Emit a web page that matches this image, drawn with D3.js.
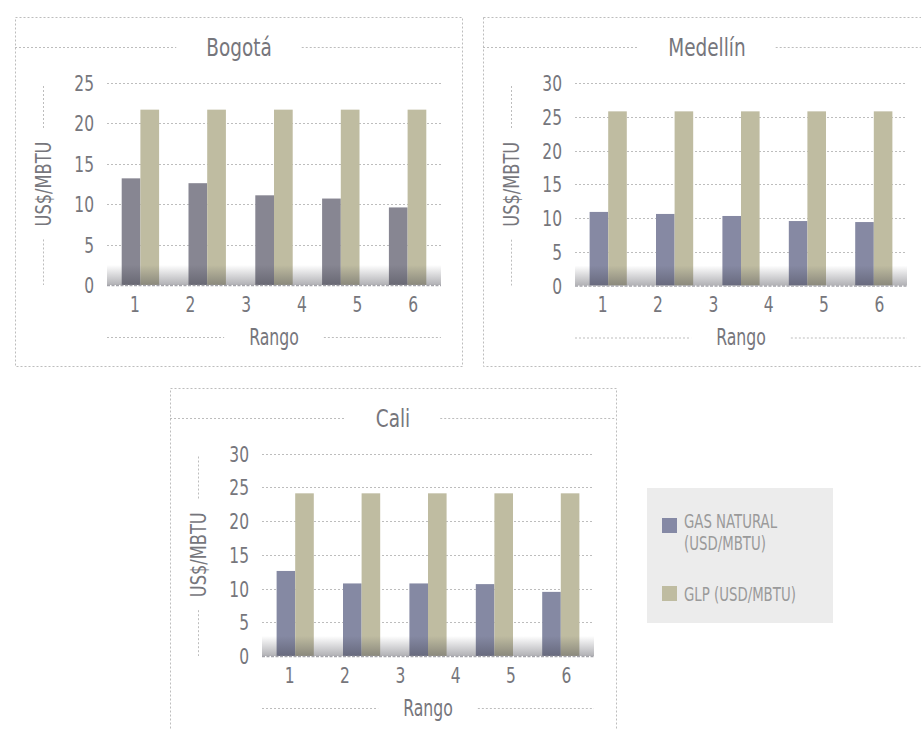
<!DOCTYPE html>
<html><head><meta charset="utf-8">
<script src="https://cdn.jsdelivr.net/npm/d3@7"></script>
<style>body{margin:0;background:#fff}svg{display:block}</style>
</head><body>
<script>
// ---- data ----
const tickLabels = ["1","2","3","4","5","6"];
const barGroups = ["g1","g2","g3","g4","g5"];
const bogotaGas = [13.2, 12.6, 11.1, 10.7, 9.6];
const bogotaGLP = [21.7, 21.7, 21.7, 21.7, 21.7];
const medellinGas = [10.9, 10.6, 10.3, 9.55, 9.4];
const medellinGLP = [25.8, 25.8, 25.8, 25.8, 25.8];
const caliGas = [12.6, 10.75, 10.75, 10.65, 9.5];
const caliGLP = [24.1, 24.1, 24.1, 24.1, 24.1];
const bogotaTicks = [0, 5, 10, 15, 20, 25];
const medellinTicks = [0, 5, 10, 15, 20, 25, 30];
const caliTicks = [0, 5, 10, 15, 20, 25, 30];
const seriesNames = ["GAS NATURAL (USD/MBTU)", "GLP (USD/MBTU)"];

const FONT = "'DejaVu Sans Condensed','DejaVu Sans',sans-serif";
const TXT = "#76767c";
const DOT = "#bdbdbd";
const GLP_COLOR = "#bfbca1";

const svg = d3.select("body").append("svg").attr("width", 921).attr("height", 730);
const defs = svg.append("defs");
const grad = defs.append("linearGradient").attr("id", "shade").attr("x1", 0).attr("x2", 0).attr("y1", 0).attr("y2", 1);
grad.append("stop").attr("offset", "0%").attr("stop-color", "#3c3c46").attr("stop-opacity", 0);
grad.append("stop").attr("offset", "100%").attr("stop-color", "#3c3c46").attr("stop-opacity", 0.4);

function condense(sel, sx) {
  sel.each(function () {
    const t = d3.select(this);
    const x = +t.attr("x") || 0, y = +t.attr("y") || 0;
    t.attr("transform", `translate(${x},${y}) scale(${sx},1) translate(${-x},${-y})`);
  });
}

function dotLine(g, x1, y1, x2, y2) {
  g.append("line").attr("x1", x1).attr("y1", y1).attr("x2", x2).attr("y2", y2)
    .attr("stroke", DOT).attr("stroke-width", 1).attr("stroke-dasharray", "2,2");
}

function panel(cfg) {
  const g = svg.append("g");
  const b = cfg.box;
  g.append("rect").attr("x", b.x + 0.5).attr("y", b.y + 0.5).attr("width", b.w).attr("height", b.h)
    .attr("fill", "none").attr("stroke", DOT).attr("stroke-dasharray", "2,2");
  const t = g.append("text").attr("x", cfg.titleX).attr("y", cfg.titleY + 9).attr("text-anchor", "middle")
    .attr("font-family", FONT).attr("font-size", 25).attr("fill", TXT).text(cfg.title);
  condense(t, 0.82);
  const tw = t.node().getComputedTextLength() * 0.82;
  dotLine(g, b.x, cfg.titleY + 0.5, cfg.titleX - tw / 2 - 30, cfg.titleY + 0.5);
  dotLine(g, cfg.titleX + tw / 2 + 30, cfg.titleY + 0.5, b.x + b.w, cfg.titleY + 0.5);

  const p = cfg.plot;
  const y = d3.scaleLinear().domain([0, d3.max(cfg.ticks)]).range([p.bottom, p.top]);
  const xLab = d3.scaleBand().domain(tickLabels).range([p.left, p.right]);
  const xBar = d3.scaleBand().domain(barGroups).range([p.left, p.right]);
  const bw = xBar.bandwidth() * 0.28;

  cfg.ticks.forEach(v => {
    if (v > 0) dotLine(g, p.left, Math.round(y(v)) + 0.5, p.right, Math.round(y(v)) + 0.5);
  });
  const yAxis = d3.axisLeft(y).tickValues(cfg.ticks).tickSize(0).tickPadding(13);
  const ya = g.append("g").attr("transform", `translate(${p.left},0)`).call(yAxis);
  ya.select(".domain").remove();
  ya.selectAll("text").attr("font-family", FONT).attr("font-size", 21).attr("fill", TXT).attr("dy", "0.36em");
  condense(ya.selectAll("text"), 0.82);

  g.append("g").selectAll("rect").data(cfg.gas).join("rect")
    .attr("x", (d, i) => xBar(barGroups[i]) + xBar.bandwidth() / 2 - bw)
    .attr("y", d => y(d)).attr("width", bw).attr("height", d => y(0) - y(d))
    .attr("fill", cfg.gasColor);
  g.append("g").selectAll("rect").data(cfg.glp).join("rect")
    .attr("x", (d, i) => xBar(barGroups[i]) + xBar.bandwidth() / 2)
    .attr("y", d => y(d)).attr("width", bw).attr("height", d => y(0) - y(d))
    .attr("fill", GLP_COLOR);

  g.append("rect").attr("x", p.left).attr("y", p.bottom - 20).attr("width", p.right - p.left).attr("height", 20)
    .attr("fill", "url(#shade)");
  g.append("line").attr("x1", p.left).attr("x2", p.right).attr("y1", p.bottom + 0.5).attr("y2", p.bottom + 0.5)
    .attr("stroke", "#a4a4aa").attr("stroke-width", 1.5).attr("stroke-dasharray", "3,1.5");

  const xAxis = d3.axisBottom(xLab).tickSize(0).tickPadding(12);
  const xa = g.append("g").attr("transform", `translate(0,${p.bottom})`).call(xAxis);
  xa.select(".domain").remove();
  xa.selectAll("text").attr("font-family", FONT).attr("font-size", 21).attr("fill", TXT);
  condense(xa.selectAll("text"), 0.82);

  const cx = (p.left + p.right) / 2;
  const xt = g.append("text").attr("x", cx).attr("y", p.bottom + 60).attr("text-anchor", "middle")
    .attr("font-family", FONT).attr("font-size", 23).attr("fill", TXT).text("Rango");
  condense(xt, 0.76);
  const xw = xt.node().getComputedTextLength() * 0.76;
  dotLine(g, p.left, p.bottom + 52.5, cx - xw / 2 - 25, p.bottom + 52.5);
  dotLine(g, cx + xw / 2 + 25, p.bottom + 52.5, p.right, p.bottom + 52.5);

  const lx = p.left - 64, cy = (p.top + p.bottom) / 2;
  const yt = g.append("text").attr("transform", `translate(${lx + 8},${cy}) rotate(-90) scale(0.82,1)`)
    .attr("text-anchor", "middle").attr("font-family", FONT).attr("font-size", 22).attr("fill", TXT).text("US$/MBTU");
  const yw = yt.node().getComputedTextLength() * 0.82;
  dotLine(g, lx + 0.5, p.top + 3, lx + 0.5, cy - yw / 2 - 13);
  dotLine(g, lx + 0.5, cy + yw / 2 + 13, lx + 0.5, p.bottom);
}

panel({title: "Bogotá", box: {x: 15, y: 17, w: 447, h: 349}, titleX: 239, titleY: 47,
  plot: {left: 107, right: 441, top: 83, bottom: 285}, ticks: bogotaTicks,
  gas: bogotaGas, glp: bogotaGLP, gasColor: "#878692"});
panel({title: "Medellín", box: {x: 483, y: 17, w: 460, h: 349}, titleX: 707, titleY: 47,
  plot: {left: 575, right: 907, top: 83, bottom: 285.5}, ticks: medellinTicks,
  gas: medellinGas, glp: medellinGLP, gasColor: "#8689a3"});
panel({title: "Cali", box: {x: 170, y: 388, w: 446, h: 360}, titleX: 393, titleY: 418,
  plot: {left: 262, right: 594, top: 453.5, bottom: 656}, ticks: caliTicks,
  gas: caliGas, glp: caliGLP, gasColor: "#8589a3"});

// legend
const lg = svg.append("g");
lg.append("rect").attr("x", 647).attr("y", 488).attr("width", 186).attr("height", 135).attr("fill", "#ececec");
lg.append("rect").attr("x", 662).attr("y", 518).attr("width", 15).attr("height", 15).attr("fill", "#8589a5");
lg.append("rect").attr("x", 662).attr("y", 586).attr("width", 15).attr("height", 15).attr("fill", GLP_COLOR);
const legText = lg.append("text").attr("x", 684).attr("y", 528).attr("font-family", FONT).attr("font-size", 19).attr("fill", "#9a9a9a");
legText.append("tspan").attr("x", 684).attr("y", 528).text(seriesNames[0].split(" (")[0]);
legText.append("tspan").attr("x", 684).attr("y", 550).text("(" + seriesNames[0].split(" (")[1]);
condense(legText, 0.78);
const leg2 = lg.append("text").attr("x", 684).attr("y", 601).attr("font-family", FONT).attr("font-size", 19)
  .attr("fill", "#9a9a9a").text(seriesNames[1]);
condense(leg2, 0.78);
</script>
</body></html>
